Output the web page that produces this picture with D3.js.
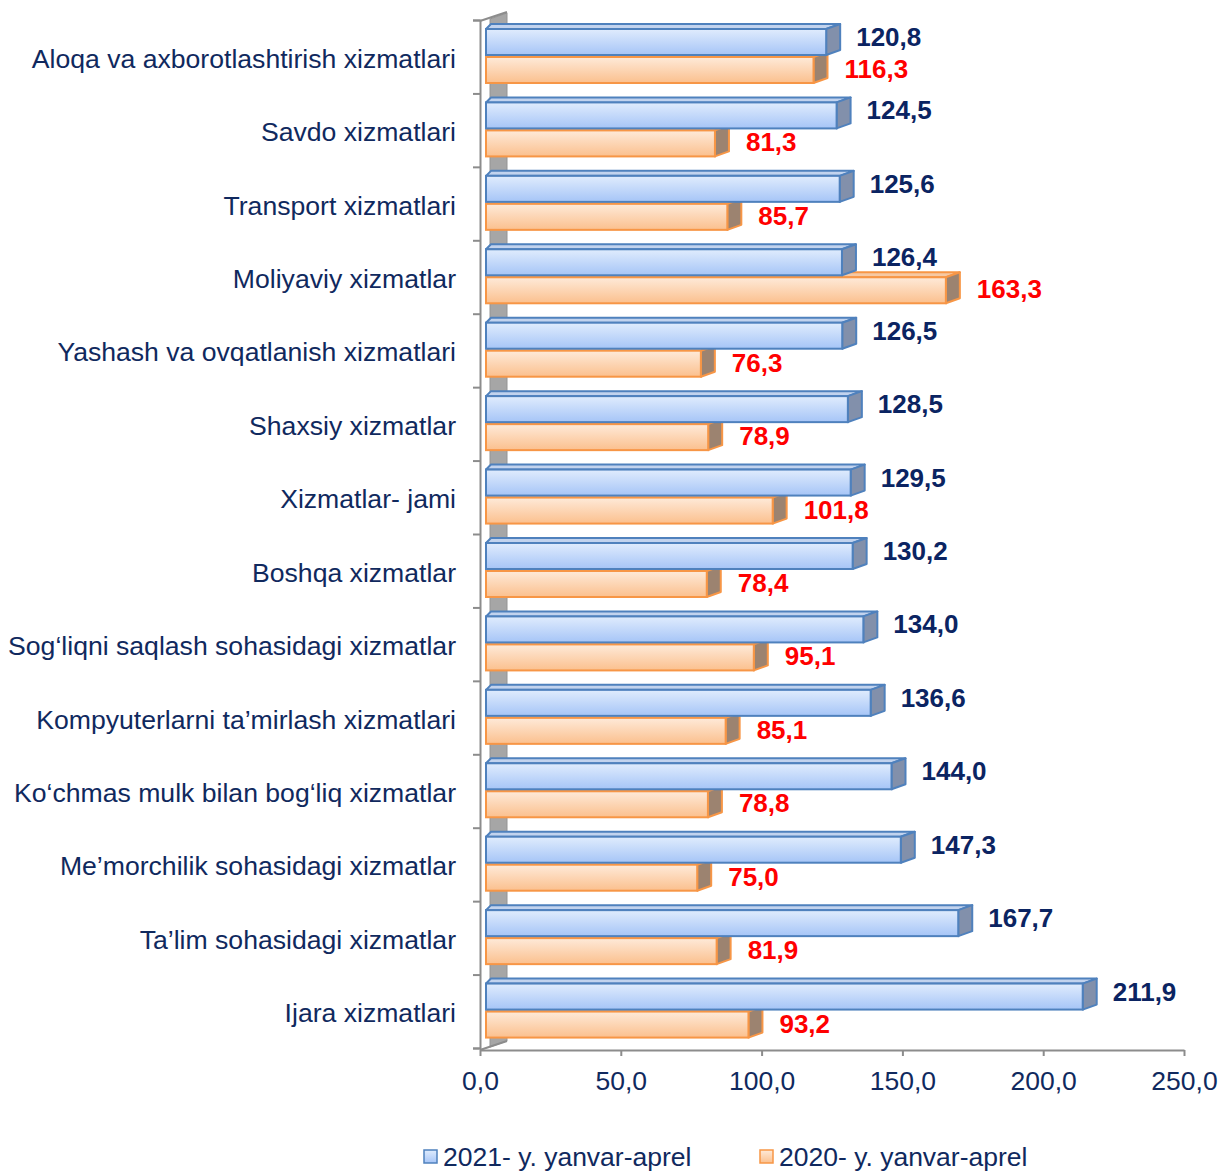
<!DOCTYPE html>
<html>
<head>
<meta charset="utf-8">
<script src="https://cdn.jsdelivr.net/npm/d3@7"></script>
<style>
  body { margin: 0; background: #fff; }
  svg text { font-family: "Liberation Sans", Arial, sans-serif; }
</style>
</head>
<body>
<div id="chart"></div>
<script>
// CHART DATA
const categories = [
  "Aloqa va axborotlashtirish xizmatlari",
  "Savdo xizmatlari",
  "Transport xizmatlari",
  "Moliyaviy xizmatlar",
  "Yashash va ovqatlanish xizmatlari",
  "Shaxsiy xizmatlar",
  "Xizmatlar- jami",
  "Boshqa xizmatlar",
  "Sog‘liqni saqlash sohasidagi xizmatlar",
  "Kompyuterlarni ta’mirlash xizmatlari",
  "Ko‘chmas mulk bilan bog‘liq xizmatlar",
  "Me’morchilik sohasidagi xizmatlar",
  "Ta’lim sohasidagi xizmatlar",
  "Ijara xizmatlari"
];
const values2021 = [120.8, 124.5, 125.6, 126.4, 126.5, 128.5, 129.5, 130.2, 134.0, 136.6, 144.0, 147.3, 167.7, 211.9];
const values2020 = [116.3, 81.3, 85.7, 163.3, 76.3, 78.9, 101.8, 78.4, 95.1, 85.1, 78.8, 75.0, 81.9, 93.2];
const seriesNames = ["2021- y. yanvar-aprel", "2020- y. yanvar-aprel"];
const xTicks = [0, 50, 100, 150, 200, 250];

const w = 1218, h = 1174;
const navy = "#10295e";
const axisClr = "#8c8c8c";

// 3D DEPTH OFFSETS
const dxR = 14, dxL = 5, dy = 5;

const fmt = (v) => d3.format(".1f")(v).replace(".", ",");

const svg = d3.select("#chart").append("svg")
  .attr("width", w)
  .attr("height", h);

const defs = svg.append("defs");
const gBlue = defs.append("linearGradient").attr("id", "gBlue")
  .attr("x1", 0).attr("y1", 0).attr("x2", 0).attr("y2", 1);
gBlue.append("stop").attr("offset", "0%").attr("stop-color", "#e0ecfd");
gBlue.append("stop").attr("offset", "100%").attr("stop-color", "#a6c5f7");
const gOrange = defs.append("linearGradient").attr("id", "gOrange")
  .attr("x1", 0).attr("y1", 0).attr("x2", 0).attr("y2", 1);
gOrange.append("stop").attr("offset", "0%").attr("stop-color", "#feead9");
gOrange.append("stop").attr("offset", "100%").attr("stop-color", "#fbc08e");

// SCALES
const xScale = d3.scaleLinear().domain([0, 250]).range([480, 1184]);
const yScale = d3.scaleBand().domain(categories).range([20, 1048]);

// BACK WALL
const wallTop = yScale.range()[0], wallBot = 1050;
svg.append("polygon")
  .attr("points", [[490, wallTop - 1], [507, wallTop - 7], [507, wallBot - 9], [490, wallBot - 3]].join(" "))
  .attr("fill", "#a6a6a6")
  .attr("stroke", "#949494");
svg.append("line")
  .attr("x1", 480).attr("y1", wallTop + 1).attr("x2", 507).attr("y2", wallTop - 8)
  .attr("stroke", axisClr).attr("stroke-width", 2);
svg.append("line")
  .attr("x1", 480).attr("y1", wallBot).attr("x2", 507).attr("y2", wallBot - 9)
  .attr("stroke", axisClr).attr("stroke-width", 2);

// Y AXIS
const yAxis = d3.axisLeft(d3.scaleLinear().domain([0, categories.length]).range([wallTop, wallBot - 2]))
  .ticks(categories.length)
  .tickSize(7)
  .tickFormat("");
const yAxisG = svg.append("g").attr("transform", "translate(480,0)").call(yAxis);
yAxisG.select(".domain").attr("stroke", axisClr).attr("stroke-width", 2);
yAxisG.selectAll(".tick line").attr("stroke", axisClr).attr("stroke-width", 2);

// X AXIS
const xAxis = d3.axisBottom(xScale).tickValues(xTicks).tickSize(6).tickSizeOuter(0).tickFormat(fmt);
const xAxisG = svg.append("g").attr("transform", "translate(0," + wallBot + ")").call(xAxis);
xAxisG.select(".domain").attr("stroke", axisClr).attr("stroke-width", 2);
xAxisG.selectAll(".tick line").attr("stroke", axisClr).attr("stroke-width", 2);
xAxisG.selectAll(".tick text")
  .attr("y", 40).attr("dy", 0)
  .attr("fill", navy)
  .style("font-size", "26.5px")
  .style("font-family", "'Liberation Sans', Arial, sans-serif");

// 3D BAR DRAWER
function bar3d(g, x0, x1, y0, hgt, fill, stroke, side, top) {
  g.append("polygon")
    .attr("points", [[x0, y0], [x1, y0], [x1 + dxR, y0 - dy], [x0 + dxL, y0 - dy]].join(" "))
    .attr("fill", top).attr("stroke", stroke).attr("stroke-width", 2).attr("stroke-linejoin", "round");
  g.append("polygon")
    .attr("points", [[x1, y0], [x1 + dxR, y0 - dy], [x1 + dxR, y0 + hgt - dy], [x1, y0 + hgt]].join(" "))
    .attr("fill", side).attr("stroke", stroke).attr("stroke-width", 2).attr("stroke-linejoin", "round");
  g.append("rect")
    .attr("x", x0).attr("y", y0)
    .attr("width", x1 - x0).attr("height", hgt)
    .attr("fill", fill).attr("stroke", stroke).attr("stroke-width", 2);
}

const barOff = 6;
const bars = svg.append("g");
categories.forEach((c, i) => {
  const t = yScale(c);
  const g = bars.append("g");
  bar3d(g, xScale(0) + barOff, xScale(values2020[i]) + barOff, t + 37, 26,
    "url(#gOrange)", "#f79646", "#9c8370", "#f6c9a4");
  bar3d(g, xScale(0) + barOff, xScale(values2021[i]) + barOff, t + 9, 26,
    "url(#gBlue)", "#4f81bd", "#8290ab", "#c2d3ee");
});

// VALUE LABELS
svg.selectAll(".lbl2021")
  .data(categories)
  .enter()
  .append("text")
  .attr("class", "lbl2021")
  .attr("x", (d, i) => xScale(values2021[i]) + barOff + dxR + 16)
  .attr("y", (d) => yScale(d) + 26)
  .attr("fill", "#0b2462")
  .style("font-size", "26px")
  .style("font-weight", "bold")
  .text((d, i) => fmt(values2021[i]));

svg.selectAll(".lbl2020")
  .data(categories)
  .enter()
  .append("text")
  .attr("class", "lbl2020")
  .attr("x", (d, i) => xScale(values2020[i]) + barOff + dxR + 17)
  .attr("y", (d) => yScale(d) + 58)
  .attr("fill", "#ff0000")
  .style("font-size", "26px")
  .style("font-weight", "bold")
  .text((d, i) => fmt(values2020[i]));

// CATEGORY LABELS
svg.selectAll(".cat")
  .data(categories)
  .enter()
  .append("text")
  .attr("class", "cat")
  .attr("x", 456)
  .attr("y", (d) => yScale(d) + yScale.bandwidth() / 2 + 11)
  .attr("text-anchor", "end")
  .attr("fill", navy)
  .style("font-size", "26.6px")
  .text((d) => d);

// LEGEND
const legend = svg.append("g");
const legendX = [424, 760];
const legendFill = ["url(#gBlue)", "url(#gOrange)"];
const legendStroke = ["#4f81bd", "#f79646"];
seriesNames.forEach((s, i) => {
  legend.append("rect")
    .attr("x", legendX[i]).attr("y", 1150)
    .attr("width", 13).attr("height", 13)
    .attr("fill", legendFill[i]).attr("stroke", legendStroke[i]).attr("stroke-width", 1.5);
  legend.append("text")
    .attr("x", legendX[i] + 19).attr("y", 1166)
    .attr("fill", navy)
    .style("font-size", "26.5px")
    .text(s);
});
</script>
</body>
</html>
